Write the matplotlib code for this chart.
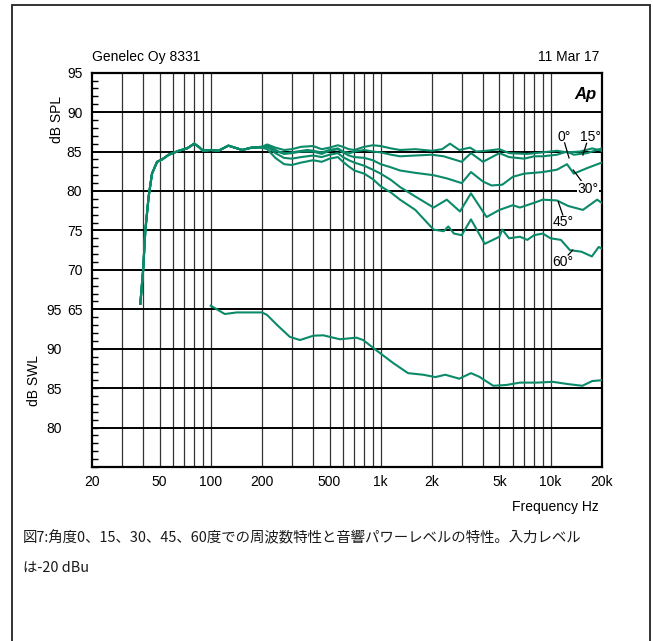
import matplotlib
matplotlib.use('Agg')
import matplotlib.pyplot as plt
from matplotlib.patches import Rectangle
from matplotlib.ticker import FixedLocator, NullFormatter, FixedFormatter, NullLocator

plt.rcParams['font.family'] = ['Liberation Sans', 'Noto Sans CJK JP', 'DejaVu Sans']

# ---------------- data ----------------
# shared low-frequency part (all angles overlap), dB SPL
common_f = [38.5, 40, 41.2, 43.1, 45.1, 48.3, 51.7, 56.6, 64.8, 72.5, 80, 85, 90, 100, 111, 127, 153, 174]
common_v = [65.7, 70.0, 75.0, 79.3, 82.2, 83.7, 84.0, 84.6, 85.1, 85.4, 86.0, 85.6, 85.1, 85.2, 85.1, 85.75, 85.2, 85.5]

f0 = [200, 215, 240, 270, 300, 340, 400, 450, 500, 560, 600, 650, 700, 800, 900, 1000, 1150, 1300, 1600, 2000,
      2300, 2560, 2900, 3360, 3650, 4200, 5000, 5700, 7300, 9000, 10900, 12500, 14900, 17600, 20000]
v0 = [85.6, 85.9, 85.5, 85.2, 85.3, 85.6, 85.7, 85.3, 85.5, 85.8, 85.6, 85.3, 85.2, 85.6, 85.8, 85.7, 85.4, 85.2, 85.3, 85.1,
      85.3, 86.0, 85.2, 85.5, 85.0, 85.1, 85.3, 84.8, 84.7, 84.9, 85.1, 84.9, 85.0, 85.4, 85.1]

f15 = [200, 220, 250, 280, 320, 370, 400, 450, 500, 560, 600, 660, 700, 800, 900, 1000, 1150, 1300, 1600, 2000,
       2350, 2700, 3000, 3400, 4000, 5000, 5700, 7000, 8000, 9000, 10900, 12500, 13700, 16400, 20000]
v15 = [85.5, 85.7, 85.0, 84.8, 85.0, 85.2, 85.1, 84.9, 85.2, 85.4, 85.0, 84.8, 85.0, 85.2, 85.0, 84.9, 84.6, 84.4, 84.5, 84.6,
       84.4, 84.0, 83.7, 84.8, 83.7, 84.8, 84.3, 84.1, 84.4, 84.4, 84.6, 85.0, 84.6, 84.8, 85.4]

f30 = [200, 215, 240, 270, 300, 340, 400, 450, 500, 560, 600, 650, 700, 800, 900, 1000, 1150, 1300, 1600, 2050,
       2450, 3000, 3400, 4000, 4500, 5200, 6000, 7000, 9000, 10900, 12500, 13700, 16400, 20000]
v30 = [85.6, 85.8, 85.1, 84.7, 84.8, 85.0, 85.0, 84.7, 85.1, 85.3, 84.9, 84.5, 84.3, 84.2, 83.9, 83.4, 83.0, 82.6, 82.3, 82.0,
       81.6, 81.0, 82.4, 81.2, 80.7, 80.8, 81.8, 82.2, 82.4, 82.7, 83.4, 82.2, 82.9, 83.6]

f45 = [200, 215, 240, 270, 300, 340, 400, 450, 500, 560, 600, 650, 700, 800, 900, 1000, 1150, 1300, 1600, 2050,
       2450, 2930, 3400, 4200, 5000, 6000, 6600, 8000, 9000, 10900, 12700, 15500, 18800, 20000]
v45 = [85.6, 85.6, 84.8, 84.2, 84.1, 84.3, 84.5, 84.3, 84.6, 84.8, 84.3, 83.9, 83.6, 83.2, 82.7, 82.2, 81.4, 80.5, 79.3, 77.9,
       78.9, 77.4, 79.7, 76.7, 77.6, 78.2, 77.9, 78.5, 78.9, 78.8, 78.1, 77.6, 78.9, 78.5]

f60 = [200, 215, 240, 270, 300, 340, 400, 450, 500, 560, 600, 650, 700, 800, 900, 1000, 1150, 1300, 1600, 2050,
       2350, 2500, 2700, 3000, 3400, 4100, 5000, 5200, 5700, 6600, 7300, 8000, 9000, 10000, 11500, 13000, 15200,
       17500, 19200, 20000]
v60 = [85.5, 85.3, 84.2, 83.4, 83.3, 83.6, 83.9, 83.7, 84.1, 84.3, 83.7, 83.1, 82.6, 82.2, 81.5, 80.6, 79.8, 78.9, 77.6, 75.1,
       74.9, 75.5, 74.6, 74.4, 76.4, 73.3, 74.2, 75.1, 74.0, 74.2, 73.8, 74.4, 74.6, 74.0, 73.8, 72.5, 72.3,
       71.7, 72.9, 72.7]

# sound power level, dB SWL
swl_f = [100, 121, 142, 200, 214, 246, 292, 335, 402, 459, 575, 720, 789, 943, 1182, 1450, 1780, 2100, 2400, 2900,
         3400, 3800, 4600, 5500, 6600, 8300, 10300, 12800, 15400, 17600, 20000]
swl_v = [95.45, 94.4, 94.6, 94.6, 94.3, 93.0, 91.5, 91.1, 91.65, 91.7, 91.2, 91.4, 91.1, 89.8, 88.2, 86.9, 86.7, 86.4, 86.7, 86.2,
         86.9, 86.45, 85.3, 85.4, 85.7, 85.7, 85.8, 85.5, 85.3, 85.9, 86.0]

x_major = [20, 50, 100, 200, 500, 1000, 2000, 5000, 10000, 20000]
x_labels = ['20', '50', '100', '200', '500', '1k', '2k', '5k', '10k', '20k']
x_grid = [30, 40, 50, 60, 70, 80, 90, 100, 200, 300, 400, 500, 600, 700, 800, 900,
          1000, 2000, 3000, 4000, 5000, 6000, 7000, 8000, 9000, 10000]
spl_ticks = [65, 70, 75, 80, 85, 90, 95]
swl_ticks = [80, 85, 90, 95]

angle_labels = ['0°', '15°', '30°', '45°', '60°']

# ---------------- figure ----------------
W, H = 653, 641
fig = plt.figure(figsize=(W / 100, H / 100), dpi=100)
fig.patch.set_facecolor('white')

def fx(x):
    return x / W

def fy(y):
    return 1 - y / H

# outer frame
fig.add_artist(Rectangle((fx(12), -0.05), fx(650) - fx(12), fy(5) + 0.05,
                         transform=fig.transFigure, fill=False, ec='#222222', lw=1.3))

ax = fig.add_axes([fx(92), fy(467), fx(601.7) - fx(92), fy(72.7) - fy(467)])
ax.set_xscale('log')
ax.set_xlim(20, 20000)
ax.set_ylim(45, 95)

green = '#0b8a69'
lw = 1.5

for f, v in [(f0, v0), (f15, v15), (f30, v30), (f45, v45), (f60, v60)]:
    ax.plot(common_f + f, common_v + v, color=green, lw=lw, solid_joinstyle='round', zorder=3)

# gridlines
for g in x_grid:
    ax.axvline(g, color='#333333', lw=0.9, zorder=1)
for g in range(50, 95, 5):
    ax.axhline(g, color='black', lw=1.4, zorder=1)

# SWL axis (shares x)
ax2 = ax.twinx()
ax2.set_ylim(75, 125)
ax2.plot(swl_f, swl_v, color=green, lw=lw, solid_joinstyle='round', zorder=3)
ax2.yaxis.set_ticks_position('left')
ax2.yaxis.set_major_locator(FixedLocator(swl_ticks))
ax2.yaxis.set_minor_locator(NullLocator())
ax2.tick_params(axis='y', length=0, pad=22, labelsize=10)
for s in ax2.spines.values():
    s.set_visible(False)

ax.set_xlim(20, 20000)
ax.xaxis.set_major_locator(FixedLocator(x_major))
ax.xaxis.set_major_formatter(FixedFormatter(x_labels))
ax.xaxis.set_minor_locator(NullLocator())
ax.xaxis.set_minor_formatter(NullFormatter())
ax.tick_params(axis='x', which='both', length=0, pad=6, labelsize=10)
ax2.tick_params(axis='x', which='both', length=0, labelbottom=False, labeltop=False)

ax.yaxis.set_major_locator(FixedLocator(spl_ticks))
ax.yaxis.set_minor_locator(FixedLocator([v for v in range(46, 95) if v % 5 != 0] + [45, 50, 55, 60]))
ax.yaxis.set_minor_formatter(NullFormatter())
ax.tick_params(axis='y', which='major', direction='in', length=0, pad=7, labelsize=10)
ax.tick_params(axis='y', which='minor', direction='in', length=4, width=1, color='black')

for s in ax.spines.values():
    s.set_linewidth(1.6)
    s.set_color('black')

# angle labels with leaders
lab_pos = [(12000, 86.85), (17100, 86.85), (16600, 80.3), (11800, 76.07), (11800, 71.0)]
leaders = [((12100, 86.1), (12840, 84.2)),
           ((16300, 86.05), (15500, 84.56)),
           ((15300, 81.18), (13600, 82.66)),
           ((11800, 76.96), (11100, 78.64)),
           ((12700, 71.88), (13500, 72.5))]
for lab, (lx, ly), ((ax0, ay0), (ax1, ay1)) in zip(angle_labels, lab_pos, leaders):
    bbox = dict(facecolor='white', edgecolor='none', pad=0.5) if lab == '30°' else None
    ax.text(lx, ly, lab, ha='center', va='center', fontsize=10, zorder=5, bbox=bbox)
    ax.plot([ax0, ax1], [ay0, ay1], color='black', lw=0.9, zorder=4)

ax.text(0.99, 0.965, 'Ap', transform=ax.transAxes, ha='right', va='top',
        fontsize=12, fontweight='bold', fontstyle='italic')

# header / axis texts
fig.text(fx(92), fy(61), 'Genelec Oy 8331', ha='left', va='baseline', fontsize=10)
fig.text(fx(599), fy(61), '11 Mar 17', ha='right', va='baseline', fontsize=10)
fig.text(fx(57), fy(119), 'dB SPL', rotation=90, ha='center', va='center', fontsize=10)
fig.text(fx(34), fy(381), 'dB SWL', rotation=90, ha='center', va='center', fontsize=10)
fig.text(fx(599), fy(507), 'Frequency Hz', ha='right', va='center', fontsize=10)

cap_font = ['Noto Sans CJK JP', 'DejaVu Sans']
fig.text(fx(23), fy(538), '図7:角度0、15、30、45、60度での周波数特性と音響パワーレベルの特性。入力レベル',
         ha='left', va='center', fontsize=10.4, family=cap_font, color='#1a1a1a')
fig.text(fx(23), fy(568), 'は-20 dBu', ha='left', va='center', fontsize=10.4, family=cap_font, color='#1a1a1a')

fig.savefig('out.png', dpi=100, facecolor='white')
